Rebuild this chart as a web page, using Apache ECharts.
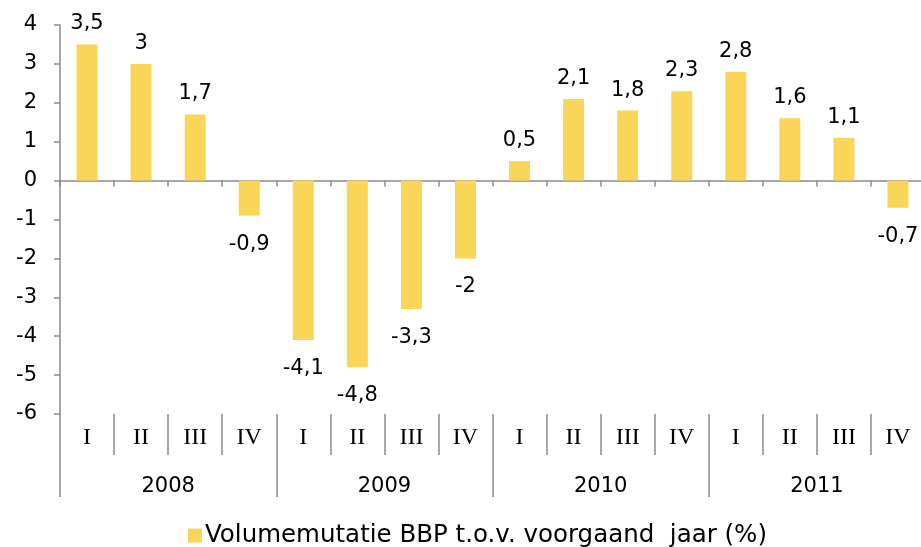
<!DOCTYPE html>
<html>
<head>
<meta charset="utf-8">
<script src="https://cdn.jsdelivr.net/npm/echarts@6/dist/echarts.min.js"></script>
<style>
html, body { margin: 0; padding: 0; background: #fff; }
#chart { width: 921px; height: 547px; }
</style>
</head>
<body>
<div id="chart"></div>
<script>
// data
var quarters = ['I', 'II', 'III', 'IV', 'I', 'II', 'III', 'IV', 'I', 'II', 'III', 'IV', 'I', 'II', 'III', 'IV'];
var years = ['2008', '2009', '2010', '2011'];
var values = [3.5, 3, 1.7, -0.9, -4.1, -4.8, -3.3, -2, 0.5, 2.1, 1.8, 2.3, 2.8, 1.6, 1.1, -0.7];
var seriesName = 'Volumemutatie BBP t.o.v. voorgaand  jaar (%)';

var axisGray = '#8a8a8a';
var barColor = '#F9D658';
var sans = 'DejaVu Sans';

var chart = echarts.init(document.getElementById('chart'));
chart.setOption({
    animation: false,
    grid: {
        left: 60,
        width: 865,
        top: 25,
        bottom: 133,
        outerBoundsMode: 'none'
    },
    legend: {
        data: [seriesName],
        left: 183,
        top: 518,
        icon: 'rect',
        itemWidth: 14,
        itemHeight: 14,
        itemGap: 4,
        textStyle: { fontFamily: sans, fontSize: 24.5, color: '#000', padding: [0, 0, 0, -2] }
    },
    xAxis: [
        {
            type: 'category',
            data: quarters,
            axisLine: { onZero: true, lineStyle: { color: axisGray, width: 1.5 } },
            axisTick: { show: true, interval: 0, length: 6, lineStyle: { color: axisGray, width: 1.5 } },
            axisLabel: { show: false }
        },
        {
            type: 'category',
            data: quarters,
            position: 'bottom',
            axisLine: { show: false, onZero: false },
            axisTick: { show: true, interval: 0, length: 41, lineStyle: { color: axisGray, width: 1.5 } },
            axisLabel: {
                interval: 0,
                margin: 12,
                fontFamily: 'Liberation Serif',
                fontSize: 24,
                color: '#000'
            }
        },
        {
            type: 'category',
            data: years,
            position: 'bottom',
            axisLine: { show: false, onZero: false },
            axisTick: { show: true, interval: 0, length: 83, lineStyle: { color: axisGray, width: 1.5 } },
            axisLabel: {
                interval: 0,
                margin: 62,
                fontFamily: sans,
                fontSize: 21,
                color: '#000'
            }
        }
    ],
    yAxis: {
        type: 'value',
        min: -6,
        max: 4,
        interval: 1,
        axisLine: { show: true, lineStyle: { color: axisGray, width: 1.5 } },
        axisTick: { show: true, length: 6, lineStyle: { color: axisGray, width: 1.5 } },
        splitLine: { show: false },
        axisLabel: {
            margin: 23,
            fontFamily: sans,
            fontSize: 21,
            color: '#000'
        }
    },
    series: [
        {
            name: seriesName,
            type: 'bar',
            xAxisIndex: 0,
            barWidth: 21,
            itemStyle: { color: barColor },
            data: values.map(function (v) {
                return {
                    value: v,
                    label: {
                        position: v < 0 ? 'bottom' : 'top',
                        distance: v < 0 ? 18 : 10
                    }
                };
            }),
            label: {
                show: true,
                fontFamily: sans,
                fontSize: 21,
                color: '#000',
                formatter: function (p) {
                    return String(p.value).replace('.', ',');
                }
            }
        }
    ]
});
</script>
</body>
</html>
